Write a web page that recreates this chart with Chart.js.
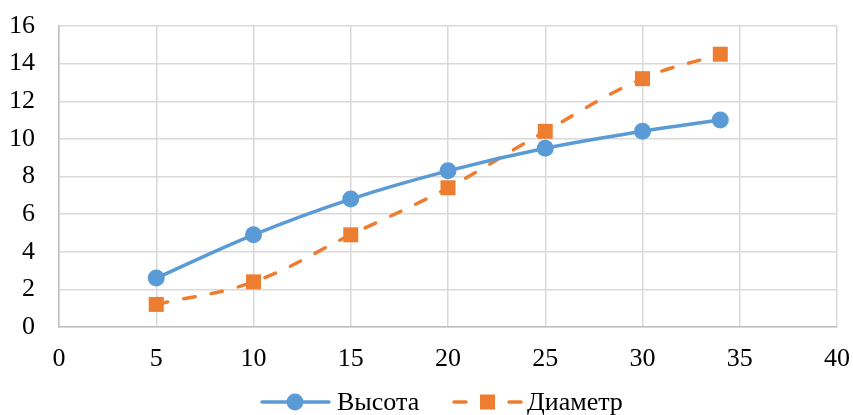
<!DOCTYPE html>
<html>
<head>
<meta charset="utf-8">
<script src="https://cdn.jsdelivr.net/npm/chart.js@4"></script>
<style>
  html, body { margin: 0; padding: 0; background: #fff; }
  #wrap { width: 853px; height: 415px; }
</style>
</head>
<body>
<div id="wrap"><canvas id="grafico"></canvas></div>
<script>
const xValores = [5, 10, 15, 20, 25, 30, 34];
const vysota = [2.6, 4.9, 6.8, 8.3, 9.5, 10.4, 11.0];
const diametr = [1.2, 2.4, 4.9, 7.4, 10.4, 13.2, 14.5];
const nomes = ['Высота', 'Диаметр'];

const azul = '#5B9BD5';
const laranja = '#ED7D31';
const fonte = '"Liberation Serif", "Times New Roman", serif';

function pontos(ys) {
    return xValores.map((x, i) => ({ x: x, y: ys[i] }));
}

// legenda no estilo do Excel: linha + marcador
const legendaPlugin = {
    id: 'legendaExcel',
    afterDraw(chart) {
        const ctx = chart.ctx;
        const y = 402;
        ctx.save();
        ctx.lineWidth = 3.5;
        ctx.lineCap = 'round';
        ctx.strokeStyle = azul;
        ctx.beginPath();
        ctx.moveTo(262, y);
        ctx.lineTo(329, y);
        ctx.stroke();
        ctx.fillStyle = azul;
        ctx.beginPath();
        ctx.arc(295, y, 8.5, 0, Math.PI * 2);
        ctx.fill();

        ctx.strokeStyle = laranja;
        ctx.beginPath();
        ctx.moveTo(454, y);
        ctx.lineTo(466, y);
        ctx.moveTo(509, y);
        ctx.lineTo(521, y);
        ctx.stroke();
        ctx.fillStyle = laranja;
        ctx.fillRect(480, y - 7.5, 15, 15);

        ctx.fillStyle = '#000';
        ctx.font = '26px ' + fonte;
        ctx.textBaseline = 'middle';
        ctx.fillText(nomes[0], 337, y + 1);
        ctx.fillText(nomes[1], 527, y + 1);
        ctx.restore();
    }
};

new Chart(document.getElementById('grafico'), {
    type: 'scatter',
    data: {
        datasets: [{
            label: nomes[0],
            data: pontos(vysota),
            showLine: true,
            borderColor: azul,
            backgroundColor: azul,
            borderWidth: 3.5,
            tension: 0.4,
            pointStyle: 'circle',
            pointRadius: 8.5,
            pointHoverRadius: 8.5,
            pointBorderWidth: 0
        }, {
            label: nomes[1],
            data: pontos(diametr),
            showLine: true,
            borderColor: laranja,
            backgroundColor: laranja,
            borderWidth: 3.5,
            borderDash: [11.5, 16.5],
            borderCapStyle: 'round',
            tension: 0.4,
            pointStyle: 'rect',
            pointRadius: 10.6,
            pointHoverRadius: 10.6,
            pointBorderWidth: 0
        }]
    },
    options: {
        responsive: true,
        maintainAspectRatio: false,
        animation: false,
        layout: { padding: { left: 0, right: 16, top: 26, bottom: 0 } },
        plugins: {
            legend: { display: false },
            tooltip: { enabled: false }
        },
        scales: {
            x: {
                type: 'linear',
                min: 0,
                max: 40,
                afterFit: (scale) => {
                    scale.height = 88;
                    scale.paddingRight = 10;
                    scale.paddingLeft = 10;
                },
                ticks: {
                    stepSize: 5,
                    color: '#000',
                    padding: 17,
                    font: { family: fonte, size: 26 }
                },
                grid: { color: '#d9d9d9', lineWidth: 1.5, drawTicks: false },
                border: { color: '#bfbfbf', width: 1.5 }
            },
            y: {
                min: 0,
                max: 16,
                afterFit: (scale) => {
                    scale.width = 59;
                    scale.paddingTop = 10;
                    scale.paddingBottom = 10;
                },
                ticks: {
                    stepSize: 2,
                    color: '#000',
                    padding: 24,
                    font: { family: fonte, size: 26 }
                },
                grid: { color: '#d9d9d9', lineWidth: 1.5, drawTicks: false },
                border: { color: '#bfbfbf', width: 1.5 }
            }
        }
    },
    plugins: [legendaPlugin]
});
</script>
</body>
</html>
